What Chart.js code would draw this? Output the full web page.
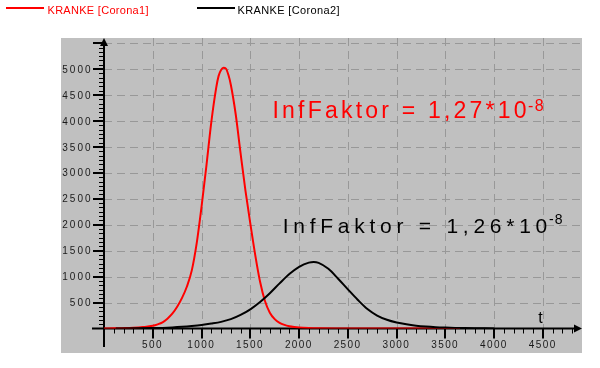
<!DOCTYPE html>
<html><head><meta charset="utf-8">
<script src="https://cdn.jsdelivr.net/npm/chart.js@4/dist/chart.umd.min.js"></script>
<style>html,body{margin:0;padding:0;background:#fff;}canvas{display:block;}</style>
</head><body>
<canvas id="c" width="600" height="368"></canvas>
<script>
// ---- data ----
const seriesNames = ['KRANKE [Corona1]', 'KRANKE [Corona2]'];
const tRed = [0,100,200,300,400,500,550,600,650,700,750,800,850,900,950,1000,1050,1100,1150,1175,1200,1225,1250,1275,1300,1350,1400,1450,1500,1550,1600,1650,1700,1750,1800,1850,1900,1950,2000,2100,2200,2400,2700,3000,3650];
const kranke1 = [0,3,7,14,28,52,80,120,190,285,420,590,810,1120,1640,2350,3140,3980,4640,4870,4985,5025,5010,4890,4700,4130,3380,2660,2020,1420,900,530,305,180,110,70,45,30,20,10,5,2,1,0,0];
const tBlack = [120,300,500,600,700,800,900,1000,1100,1200,1300,1400,1500,1600,1700,1800,1900,2000,2100,2150,2200,2300,2400,2500,2600,2700,2800,2900,3000,3100,3200,3300,3400,3500,3600,3700,3800,3900,4000];
const kranke2 = [0,3,8,12,20,32,48,68,95,128,180,262,370,510,680,870,1050,1190,1270,1282,1265,1150,960,755,555,375,250,168,115,80,55,38,26,18,12,8,5,3,1];
const xTickValues = [500,1000,1500,2000,2500,3000,3500,4000,4500];
const xTickLabels = ['500','1000','1500','2000','2500','3000','3500','4000','4500'];
const yTickValues = [500,1000,1500,2000,2500,3000,3500,4000,4500,5000];
const yTickLabels = ['500','1000','1500','2000','2500','3000','3500','4000','4500','5000'];
const xAxisTitle = 't';
const noteMain = ['InfFaktor = 1,27*10', 'InfFaktor = 1,26*10'];
const noteExp = ['-8', '-8'];

const FONT = '"Liberation Sans", Arial, Helvetica, sans-serif';

function spacedText(ctx, text, x, y, spacing) {
  let cx = x;
  for (const ch of text) {
    ctx.fillText(ch, cx, y);
    cx += ctx.measureText(ch).width + spacing;
  }
  return cx - spacing;
}
function spacedWidth(ctx, text, spacing) {
  let w = 0;
  for (const ch of text) w += ctx.measureText(ch).width;
  return w + spacing * (text.length - 1);
}
function fitText(ctx, text, x, y, target) {
  let nat = spacedWidth(ctx, text, 0);
  const sp = (target - nat) / (text.length - 1);
  return spacedText(ctx, text, x, y, sp);
}

const bgPlugin = {
  id: 'decor',
  beforeDraw(chart) {
    const ctx = chart.ctx, xs = chart.scales.x, ys = chart.scales.y;
    ctx.save();
    ctx.fillStyle = '#ffffff';
    ctx.fillRect(0, 0, chart.width, chart.height);
    ctx.fillStyle = '#c0c0c0';
    ctx.fillRect(61, 38, 521, 315);
    // grid
    const x0 = xs.getPixelForValue(0), y0 = ys.getPixelForValue(0);
    const top = chart.chartArea.top, right = chart.chartArea.right;
    ctx.strokeStyle = '#989898';
    ctx.lineWidth = 1;
    ctx.setLineDash([8, 5]);
    for (const v of xTickValues) {
      const px = Math.round(xs.getPixelForValue(v)) + 0.5;
      ctx.beginPath(); ctx.moveTo(px, top); ctx.lineTo(px, y0); ctx.stroke();
    }
    for (let v = 500; v <= 5500; v += 500) {
      const py = Math.round(ys.getPixelForValue(v)) + 0.5;
      ctx.beginPath(); ctx.moveTo(x0, py); ctx.lineTo(right, py); ctx.stroke();
    }
    ctx.setLineDash([]);
    ctx.restore();
  },
  beforeDatasetsDraw(chart) {
    const ctx = chart.ctx, xs = chart.scales.x, ys = chart.scales.y;
    const x0 = xs.getPixelForValue(0), y0 = ys.getPixelForValue(0);
    const top = chart.chartArea.top, right = chart.chartArea.right;
    ctx.save();
    ctx.strokeStyle = '#000'; ctx.fillStyle = '#000';
    ctx.lineWidth = 2;
    ctx.beginPath(); ctx.moveTo(x0, 347); ctx.lineTo(x0, top + 6); ctx.stroke();
    ctx.beginPath(); ctx.moveTo(92, y0); ctx.lineTo(right - 6, y0); ctx.stroke();
    ctx.beginPath(); ctx.moveTo(x0, top); ctx.lineTo(x0 - 4, top + 8); ctx.lineTo(x0 + 4, top + 8); ctx.closePath(); ctx.fill();
    ctx.beginPath(); ctx.moveTo(right, y0); ctx.lineTo(right - 8, y0 - 4); ctx.lineTo(right - 8, y0 + 4); ctx.closePath(); ctx.fill();
    for (let v = 100; v <= 4800; v += 100) {
      const px = Math.round(xs.getPixelForValue(v));
      const major = v % 500 === 0;
      ctx.lineWidth = major ? 2 : 1;
      const xx = major ? px : px + 0.5;
      ctx.beginPath(); ctx.moveTo(xx, y0); ctx.lineTo(xx, y0 + (major ? 10 : 5)); ctx.stroke();
    }
    for (let k = 1; k <= 66; k++) {
      const v = k * 500 / 6;
      const py = Math.round(ys.getPixelForValue(v));
      const major = k % 6 === 0;
      ctx.lineWidth = major ? 2 : 1;
      const yy = major ? py : py + 0.5;
      ctx.beginPath(); ctx.moveTo(x0 - (major ? 11 : 5), yy); ctx.lineTo(x0, yy); ctx.stroke();
    }
    ctx.restore();
  },
  afterDraw(chart) {
    const ctx = chart.ctx, xs = chart.scales.x, ys = chart.scales.y;
    ctx.save();
    ctx.fillStyle = '#1a1a1a';
    ctx.textBaseline = 'alphabetic';
    ctx.font = '10px ' + FONT;
    yTickValues.forEach((v, i) => {
      const s = yTickLabels[i];
      const w = spacedWidth(ctx, s, 2);
      spacedText(ctx, s, 90.5 - w, ys.getPixelForValue(v) + 3.6, 2);
    });
    xTickValues.forEach((v, i) => {
      const s = xTickLabels[i];
      const w = spacedWidth(ctx, s, 1.4);
      spacedText(ctx, s, xs.getPixelForValue(v) - w / 2 - 1, 347.5, 1.4);
    });
    ctx.fillStyle = '#000';
    ctx.font = '16px ' + FONT;
    ctx.textAlign = 'center';
    ctx.fillText(xAxisTitle, 540.5, 323);
    ctx.textAlign = 'left';
    ctx.lineWidth = 2;
    ctx.strokeStyle = '#ff0000';
    ctx.beginPath(); ctx.moveTo(6, 8); ctx.lineTo(44, 8); ctx.stroke();
    ctx.strokeStyle = '#000';
    ctx.beginPath(); ctx.moveTo(197, 8); ctx.lineTo(235, 8); ctx.stroke();
    ctx.font = '11px ' + FONT;
    ctx.fillStyle = '#ff0000';
    fitText(ctx, seriesNames[0], 47.5, 14, 101);
    ctx.fillStyle = '#000';
    fitText(ctx, seriesNames[1], 237.5, 14, 102);
    ctx.fillStyle = '#ff0000';
    ctx.font = '23px ' + FONT;
    fitText(ctx, noteMain[0], 272.5, 118.3, 254);
    ctx.font = '16px ' + FONT;
    spacedText(ctx, noteExp[0], 528, 110.7, 1.5);
    ctx.fillStyle = '#000';
    ctx.font = '21px ' + FONT;
    fitText(ctx, noteMain[1], 282.7, 233.3, 264.6);
    ctx.font = '14px ' + FONT;
    spacedText(ctx, noteExp[1], 549, 223.5, 1);
    ctx.restore();
  }
};

new Chart(document.getElementById('c'), {
  type: 'line',
  data: {
    datasets: [
      { label: seriesNames[0], data: tRed.map((t, i) => ({ x: t, y: kranke1[i] })),
        borderColor: '#ff0000', borderWidth: 2, pointRadius: 0, fill: false,
        cubicInterpolationMode: 'monotone', order: 2 },
      { label: seriesNames[1], data: tBlack.map((t, i) => ({ x: t, y: kranke2[i] })),
        borderColor: '#000000', borderWidth: 2, pointRadius: 0, fill: false,
        cubicInterpolationMode: 'monotone', order: 1 }
    ]
  },
  options: {
    responsive: false,
    devicePixelRatio: 1,
    animation: false,
    events: [],
    layout: { padding: { left: 104, right: 18, top: 38, bottom: 39.5 } },
    plugins: { legend: { display: false }, tooltip: { enabled: false }, title: { display: false } },
    scales: {
      x: { type: 'linear', min: 0, max: 4900, display: false },
      y: { type: 'linear', min: 0, max: 5600, display: false }
    }
  },
  plugins: [bgPlugin]
});
</script>
</body></html>
